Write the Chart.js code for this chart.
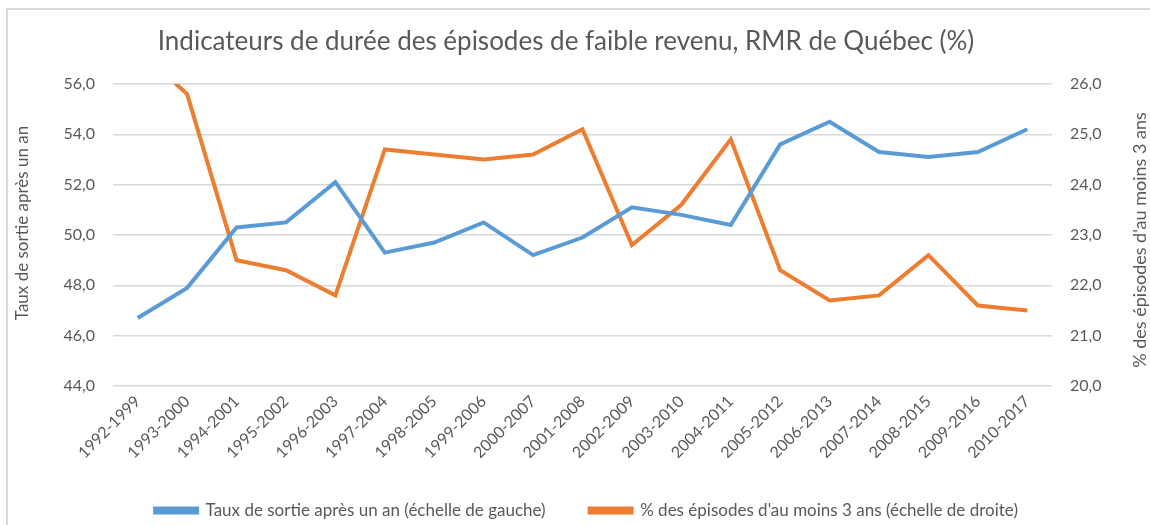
<!DOCTYPE html>
<html>
<head>
<meta charset="utf-8">
<script src="https://cdn.jsdelivr.net/npm/chart.js@4/dist/chart.umd.min.js"></script>
<style>
  html, body { margin: 0; padding: 0; background: #fff; overflow: hidden; }
  #wrap { position: relative; width: 1150px; height: 525px; }
  #frame { position: absolute; left: 6px; top: 8px; width: 1200px; height: 600px; border: 2px solid #d9d9d9; }
  canvas { position: absolute; left: 0; top: 0; }
</style>
</head>
<body>
<div id="wrap">
  <div id="frame"></div>
  <canvas id="myChart" width="1150" height="525"></canvas>
</div>
<script>
// données
const periodes = ['1992-1999', '1993-2000', '1994-2001', '1995-2002', '1996-2003', '1997-2004', '1998-2005',
    '1999-2006', '2000-2007', '2001-2008', '2002-2009', '2003-2010', '2004-2011', '2005-2012',
    '2006-2013', '2007-2014', '2008-2015', '2009-2016', '2010-2017'];
const tauxSortie = [46.7, 47.9, 50.3, 50.5, 52.1, 49.3, 49.7, 50.5, 49.2, 49.9, 51.1, 50.8, 50.4, 53.6, 54.5, 53.3, 53.1, 53.3, 54.2];
const episodes3ans = [26.7, 25.8, 22.5, 22.3, 21.8, 24.7, 24.6, 24.5, 24.6, 25.1, 22.8, 23.6, 24.9, 22.3, 21.7, 21.8, 22.6, 21.6, 21.5];
const titre = 'Indicateurs de durée des épisodes de faible revenu, RMR de Québec (%)';
const titreGauche = 'Taux de sortie après un an';
const titreDroite = "% des épisodes d'au moins 3 ans";
const labelBleu = 'Taux de sortie après un an (échelle de gauche)';
const labelOrange = "% des épisodes d'au moins 3 ans (échelle de droite)";

const gris = '#595959';
const police = 'Lato, "Open Sans", sans-serif';

function virgule(v) {
    return Number(v).toFixed(1).replace('.', ',');
}

function texteVertical(ctx, texte, x, y, taille) {
    ctx.save();
    ctx.translate(x, y);
    ctx.rotate(-Math.PI / 2);
    ctx.fillStyle = gris;
    ctx.font = taille + 'px ' + police;
    ctx.textAlign = 'center';
    ctx.textBaseline = 'middle';
    ctx.fillText(texte, 0, 0);
    ctx.restore();
}

// titre du graphique et titres des axes
const titresPlugin = {
    id: 'titres',
    afterDraw(chart) {
        const ctx = chart.ctx;
        ctx.save();
        ctx.fillStyle = gris;
        ctx.font = '26px ' + police;
        ctx.textAlign = 'center';
        ctx.textBaseline = 'middle';
        ctx.fillText(titre, 566, 42);
        ctx.restore();
        texteVertical(ctx, titreGauche, 23, 223, 17);
        texteVertical(ctx, titreDroite, 1140, 240, 18);
    }
};

const ctx = document.getElementById('myChart').getContext('2d');
const myChart = new Chart(ctx, {
    type: 'line',
    data: {
        labels: periodes,
        datasets: [{
            label: labelBleu,
            data: tauxSortie,
            yAxisID: 'y',
            borderColor: '#5B9BD5',
            backgroundColor: '#5B9BD5',
            borderWidth: 4,
            pointRadius: 0,
            tension: 0
        }, {
            label: labelOrange,
            data: episodes3ans,
            yAxisID: 'y1',
            borderColor: '#ED7D31',
            backgroundColor: '#ED7D31',
            borderWidth: 4,
            pointRadius: 0,
            tension: 0
        }]
    },
    options: {
        responsive: false,
        animation: false,
        layout: { padding: { left: 23, right: 0, top: 84, bottom: -4 } },
        plugins: {
            title: { display: false },
            legend: {
                position: 'bottom',
                labels: {
                    color: gris,
                    font: { family: police, size: 17 },
                    boxWidth: 42,
                    boxHeight: 4,
                    padding: 44
                }
            },
            tooltip: { enabled: false }
        },
        scales: {
            x: {
                offset: true,
                grid: { display: false, drawTicks: false },
                border: { display: false },
                ticks: {
                    color: gris,
                    font: { family: police, size: 16 },
                    minRotation: 45,
                    maxRotation: 45,
                    padding: 6
                },
                afterFit(scale) { scale.height = 72; }
            },
            y: {
                position: 'left',
                min: 44,
                max: 56,
                grid: { color: '#d9d9d9', lineWidth: 1.5, drawTicks: false },
                border: { display: false },
                ticks: {
                    stepSize: 2,
                    color: gris,
                    font: { family: police, size: 16 },
                    padding: 18,
                    callback: (v) => virgule(v)
                },
                afterFit(scale) { scale.width = 90; }
            },
            y1: {
                position: 'right',
                min: 20,
                max: 26,
                grid: { display: false, drawTicks: false },
                border: { display: false },
                ticks: {
                    stepSize: 1,
                    color: gris,
                    font: { family: police, size: 16 },
                    padding: 18,
                    callback: (v) => virgule(v)
                },
                afterFit(scale) { scale.width = 98; }
            }
        }
    },
    plugins: [titresPlugin]
});
</script>
</body>
</html>
